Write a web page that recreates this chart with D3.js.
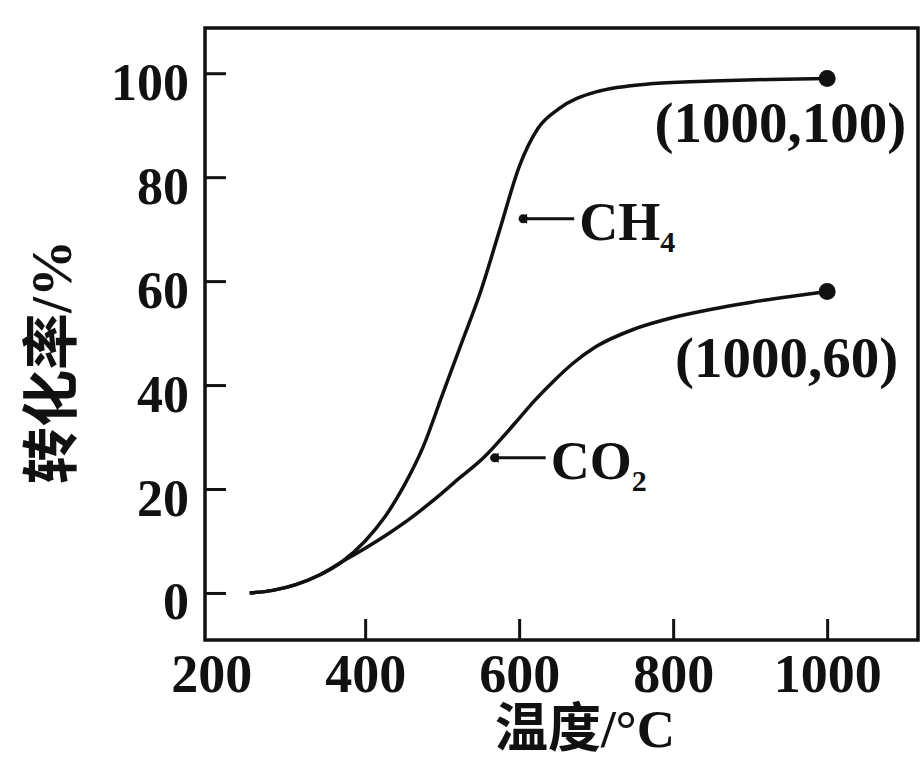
<!DOCTYPE html>
<html>
<head>
<meta charset="utf-8">
<script src="https://cdn.jsdelivr.net/npm/d3@7"></script>
<style>
  body { margin: 0; background: #fff; }
  svg { display: block; }
  .num { font-family: "Liberation Serif", "Times New Roman", serif; font-weight: bold; fill: #111; }
  .cjk { font-family: "Liberation Serif", "Noto Sans CJK SC", serif; font-weight: bold; fill: #111; }
</style>
</head>
<body>
<svg id="chart" width="923" height="759"></svg>
<script>
// readings (temperature in °C, conversion in %)
var ch4Temp = [250, 280, 310, 340, 370, 400, 425, 450, 475, 500, 525, 550, 575, 600, 625, 650, 700, 775, 850, 925, 1000];
var ch4Val  = [0, 0.5, 1.6, 3.4, 6, 10, 14.5, 20.5, 28, 38, 48, 58, 70, 82, 89.5, 93, 96.4, 98, 98.5, 98.8, 99];

var co2Temp = [250, 280, 310, 340, 370, 400, 430, 460, 490, 520, 555, 580, 600, 620, 645, 670, 700, 750, 800, 850, 900, 950, 1000];
var co2Val  = [0, 0.5, 1.6, 3.4, 6, 8.6, 11.4, 14.5, 18, 21.8, 26.2, 30.2, 33.6, 37, 40.8, 44.2, 47.4, 50.8, 53, 54.6, 55.9, 57, 58];

var xTicks = [200, 400, 600, 800, 1000];
var yTicks = [0, 20, 40, 60, 80, 100];

// end points and their printed labels
var endTemp  = [1000, 1000];
var endVal   = [99, 58];
var endLabel = ["(1000,100)", "(1000,60)"];

// arrow labels: where the arrow tip sits
var tagName = ["CH", "CO"];
var tagSub  = ["4", "2"];
var tagTemp = [600, 563];
var tagVal  = [72, 26];

var svg = d3.select("#chart");

var x = d3.scaleLinear().domain([192, 1118]).range([205, 918]);
var y = d3.scaleLinear().domain([-9.05, 108.7]).range([640, 28]);

// frame
svg.append("rect")
    .attr("x", x.range()[0]).attr("y", y.range()[1])
    .attr("width", x.range()[1] - x.range()[0])
    .attr("height", y.range()[0] - y.range()[1])
    .attr("fill", "none").attr("stroke", "#111").attr("stroke-width", 3.5);

// x axis, ticks pointing in
var gx = svg.append("g")
    .attr("transform", "translate(0," + y.range()[0] + ")")
    .call(d3.axisBottom(x).tickValues(xTicks).tickFormat(d3.format("d"))
        .tickSizeInner(-21).tickSizeOuter(0).tickPadding(0));
gx.select(".domain").remove();
gx.selectAll(".tick line").attr("stroke", "#111").attr("stroke-width", 3)
    .filter(function(d) { return d == 200; }).remove();
gx.selectAll(".tick text")
    .attr("class", "num").attr("font-size", 54)
    .attr("y", 52).attr("dy", 0);

// y axis
var gy = svg.append("g")
    .attr("transform", "translate(" + x.range()[0] + ",0)")
    .call(d3.axisLeft(y).tickValues(yTicks).tickSizeInner(-21).tickSizeOuter(0));
gy.select(".domain").remove();
gy.selectAll(".tick line").attr("stroke", "#111").attr("stroke-width", 3);
gy.selectAll(".tick text")
    .attr("class", "num").attr("font-size", 52)
    .attr("x", -16).attr("dy", 0).attr("y", 26);

// axis titles
svg.append("text")
    .attr("class", "cjk").attr("font-size", 53)
    .attr("text-anchor", "middle")
    .attr("x", 585).attr("y", 747)
    .text("温度/°C");

svg.append("text")
    .attr("class", "cjk").attr("font-size", 57)
    .attr("text-anchor", "middle")
    .attr("transform", "translate(71,362) rotate(-90)")
    .text("转化率/%");

// curves
var line = d3.line()
    .x(function(d) { return x(d[0]); })
    .y(function(d) { return y(d[1]); })
    .curve(d3.curveMonotoneX);

svg.append("path")
    .datum(ch4Temp.map(function(t, i) { return [t, ch4Val[i]]; }))
    .attr("d", line)
    .attr("fill", "none").attr("stroke", "#111").attr("stroke-width", 3.5);

svg.append("path")
    .datum(co2Temp.map(function(t, i) { return [t, co2Val[i]]; }))
    .attr("d", line)
    .attr("fill", "none").attr("stroke", "#111").attr("stroke-width", 3.5);

// end dots with coordinates
endTemp.forEach(function(t, i) {
    svg.append("circle")
        .attr("cx", x(t)).attr("cy", y(endVal[i])).attr("r", 8.5)
        .attr("fill", "#111");
});
svg.append("text").attr("class", "num").attr("font-size", 57)
    .attr("text-anchor", "end")
    .attr("x", x(endTemp[0]) + 79).attr("y", y(endVal[0]) + 64)
    .text(endLabel[0]);
svg.append("text").attr("class", "num").attr("font-size", 57)
    .attr("text-anchor", "end")
    .attr("x", x(endTemp[1]) + 71).attr("y", y(endVal[1]) + 85)
    .text(endLabel[1]);

// arrow tags
tagName.forEach(function(n, i) {
    var tx = x(tagTemp[i]), ty = y(tagVal[i]);
    svg.append("path")
        .attr("d", "M" + (tx - 1) + "," + ty + " l9,-5 l0,10 z")
        .attr("fill", "#111");
    svg.append("circle").attr("cx", tx + 4).attr("cy", ty).attr("r", 4.5).attr("fill", "#111");
    svg.append("line")
        .attr("x1", tx).attr("x2", tx + 55)
        .attr("y1", ty).attr("y2", ty)
        .attr("stroke", "#111").attr("stroke-width", 3);
    var t = svg.append("text").attr("class", "num").attr("font-size", 54)
        .attr("x", tx + 60).attr("y", ty + 21);
    t.append("tspan").text(n);
    t.append("tspan").attr("font-size", 30).attr("dy", 12).text(tagSub[i]);
});
</script>
</body>
</html>
